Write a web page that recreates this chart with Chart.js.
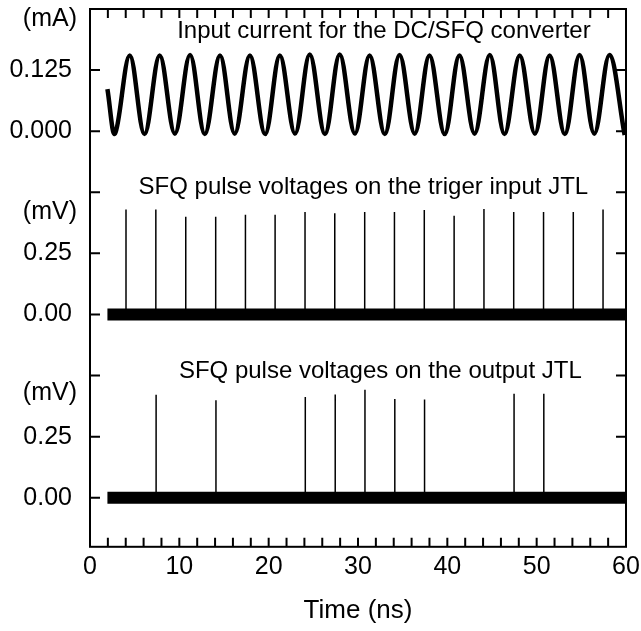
<!DOCTYPE html>
<html>
<head>
<meta charset="utf-8">
<script src="https://cdn.jsdelivr.net/npm/chart.js@4.4.1/dist/chart.umd.min.js"></script>
<style>
  html, body { margin: 0; padding: 0; background: #fff; }
  #wrap { width: 641px; height: 631px; position: relative; }
</style>
</head>
<body>
<div id="wrap"><canvas id="myChart"></canvas></div>
<script>
'use strict'

// input current: start, then alternating troughs / peaks (ns, mA)
var sineTime = [1.95, 2.8, 4.45, 6.1, 7.8, 9.5, 11.2, 12.85, 14.55, 16.2, 17.9, 19.6, 21.25, 22.95,
  24.6, 26.3, 27.95, 29.65, 31.3, 33.0, 34.65, 36.35, 38.0, 39.7, 41.35, 43.05, 44.75, 46.4,
  48.1, 49.8, 51.45, 53.15, 54.8, 56.45, 58.15, 59.85];
var sineCurrent = [0.086, -0.005, 0.155, -0.006, 0.155, -0.005, 0.156, -0.006, 0.155, -0.005, 0.155, -0.006, 0.155, -0.005,
  0.157, -0.006, 0.157, -0.005, 0.155, -0.006, 0.156, -0.005, 0.155, -0.006, 0.155, -0.005, 0.156, -0.006,
  0.155, -0.005, 0.155, -0.006, 0.156, -0.005, 0.156, -0.008];

// trigger input JTL pulses (ns, mV)
var trigTime = [4.03, 7.37, 10.72, 14.07, 17.4, 20.72, 24.07, 27.4, 30.75, 34.08, 37.42, 40.76, 44.1, 47.43, 50.77, 54.1, 57.43];
var trigPeak = [0.43, 0.43, 0.40, 0.40, 0.408, 0.408, 0.419, 0.414, 0.419, 0.419, 0.427, 0.404, 0.432, 0.419, 0.419, 0.419, 0.43];

// output JTL pulses (ns, mV)
var outTime = [7.4, 14.1, 24.1, 27.45, 30.78, 34.12, 37.45, 47.47, 50.8];
var outPeak = [0.422, 0.399, 0.412, 0.423, 0.442, 0.404, 0.402, 0.426, 0.426];

// noisy baseline span (ns)
var baseStart = 1.95;
var baseEnd = 60;

var topTicks = [-0.125, 0, 0.125];
var topTickLabels = ['', '0.000', '0.125'];
var pulseTicks = [-0.25, 0, 0.25];
var pulseTickLabels = ['', '0.00', '0.25'];

var titles = ['Input current for the DC/SFQ converter',
  'SFQ pulse voltages on the triger input JTL',
  'SFQ pulse voltages on the output JTL'];
var units = ['(mA)', '(mV)', '(mV)'];

var FONT = "'Liberation Sans', Arial, sans-serif";

function pulseData(times, peaks) {
  var pts = [];
  times.forEach(function(t, i) {
    pts.push({x: t, y: 0}, {x: t, y: peaks[i]}, {x: t, y: null});
  });
  return pts;
}

function yScale(ticks, labels, min, max, weight) {
  return {
    type: 'linear',
    position: 'left',
    stack: 'panels',
    stackWeight: weight,
    min: min,
    max: max,
    grid: { display: false, drawTicks: false },
    border: { display: false },
    afterBuildTicks: function(axis) {
      axis.ticks = ticks.map(function(v) { return {value: v}; });
    },
    afterFit: function(axis) {
      axis.width = 90;
      axis.paddingTop = 0;
      axis.paddingBottom = 0;
    },
    ticks: {
      padding: 18,
      color: '#000',
      font: { family: FONT, size: 25 },
      callback: function(value) {
        var i = ticks.indexOf(value);
        return i < 0 ? '' : labels[i];
      }
    }
  };
}

// frame, inward tick marks, panel captions and units
var framePlugin = {
  id: 'frame',
  afterDraw: function(chart) {
    var ctx = chart.ctx;
    var a = chart.chartArea;
    ctx.save();
    ctx.strokeStyle = '#000';
    ctx.lineWidth = 2;
    ctx.strokeRect(a.left, a.top, a.right - a.left, a.bottom - a.top);

    ctx.beginPath();
    chart.scales.x.ticks.forEach(function(t) {
      var px = chart.scales.x.getPixelForValue(t.value);
      ctx.moveTo(px, a.bottom); ctx.lineTo(px, a.bottom - 9);
      ctx.moveTo(px, a.top); ctx.lineTo(px, a.top + 9);
    });
    ['yTop', 'yMid', 'yBot'].forEach(function(id) {
      var s = chart.scales[id];
      s.ticks.forEach(function(t) {
        var py = s.getPixelForValue(t.value);
        ctx.moveTo(a.left, py); ctx.lineTo(a.left + 10, py);
        ctx.moveTo(a.right, py); ctx.lineTo(a.right - 10, py);
      });
    });
    ctx.stroke();

    ctx.fillStyle = '#000';
    ctx.textBaseline = 'middle';
    ctx.textAlign = 'center';
    ctx.font = '24px ' + FONT;
    var capPos = [[32.9, 'yTop', 0.204], [30.6, 'yMid', 0.518], [32.5, 'yBot', 0.518]];
    capPos.forEach(function(p, i) {
      ctx.fillText(titles[i], chart.scales.x.getPixelForValue(p[0]), chart.scales[p[1]].getPixelForValue(p[2]));
    });

    ctx.textAlign = 'right';
    ctx.font = '25px ' + FONT;
    var unitPos = [['yTop', 0.23], ['yMid', 0.42], ['yBot', 0.43]];
    unitPos.forEach(function(p, i) {
      ctx.fillText(units[i], a.left - 13, chart.scales[p[0]].getPixelForValue(p[1]));
    });
    ctx.restore();
  }
};

var ctx = document.getElementById('myChart');

var chart = new Chart(ctx, {
  type: 'line',
  data: {
    datasets: [{
      label: 'Input current',
      yAxisID: 'yTop',
      data: sineTime.map(function(t, i) { return {x: t, y: sineCurrent[i]}; }),
      borderColor: '#000',
      borderWidth: 4.5,
      tension: 0.36,
      pointRadius: 0
    },
    {
      label: 'Trigger baseline',
      yAxisID: 'yMid',
      data: [{x: baseStart, y: 0}, {x: baseEnd, y: 0}],
      borderColor: '#000',
      borderWidth: 12,
      borderCapStyle: 'butt',
      pointRadius: 0
    },
    {
      label: 'Trigger pulses',
      yAxisID: 'yMid',
      data: pulseData(trigTime, trigPeak),
      borderColor: '#000',
      borderWidth: 1.5,
      spanGaps: false,
      pointRadius: 0
    },
    {
      label: 'Output baseline',
      yAxisID: 'yBot',
      data: [{x: baseStart, y: 0}, {x: baseEnd, y: 0}],
      borderColor: '#000',
      borderWidth: 12,
      borderCapStyle: 'butt',
      pointRadius: 0
    },
    {
      label: 'Output pulses',
      yAxisID: 'yBot',
      data: pulseData(outTime, outPeak),
      borderColor: '#000',
      borderWidth: 1.5,
      spanGaps: false,
      pointRadius: 0
    }]
  },
  options: {
    responsive: true,
    maintainAspectRatio: false,
    animation: false,
    events: [],
    layout: { padding: { top: 9, bottom: 5, left: 0, right: 0 } },
    plugins: { legend: { display: false }, tooltip: { enabled: false } },
    scales: {
      x: {
        type: 'linear',
        min: 0,
        max: 60,
        grid: { display: false, drawTicks: false },
        border: { display: false },
        afterFit: function(axis) {
          axis.paddingLeft = 0;
          axis.paddingRight = 15;
        },
        ticks: {
          stepSize: 2,
          autoSkip: false,
          maxRotation: 0,
          padding: 5,
          color: '#000',
          font: { family: FONT, size: 25 },
          callback: function(value) { return value % 10 === 0 ? String(value) : ''; }
        },
        title: {
          display: true,
          text: 'Time (ns)',
          color: '#000',
          font: { family: FONT, size: 26 },
          padding: { top: 8, bottom: 0 }
        }
      },
      // stacked axes are laid out bottom-first
      yBot: yScale(pulseTicks.slice(1), pulseTickLabels.slice(1), -0.2, 0.5, 171),
      yMid: yScale(pulseTicks, pulseTickLabels, -0.25, 0.5, 183),
      yTop: yScale(topTicks, topTickLabels, -0.125, 0.25, 183)
    }
  },
  plugins: [framePlugin]
});
</script>
</body>
</html>
